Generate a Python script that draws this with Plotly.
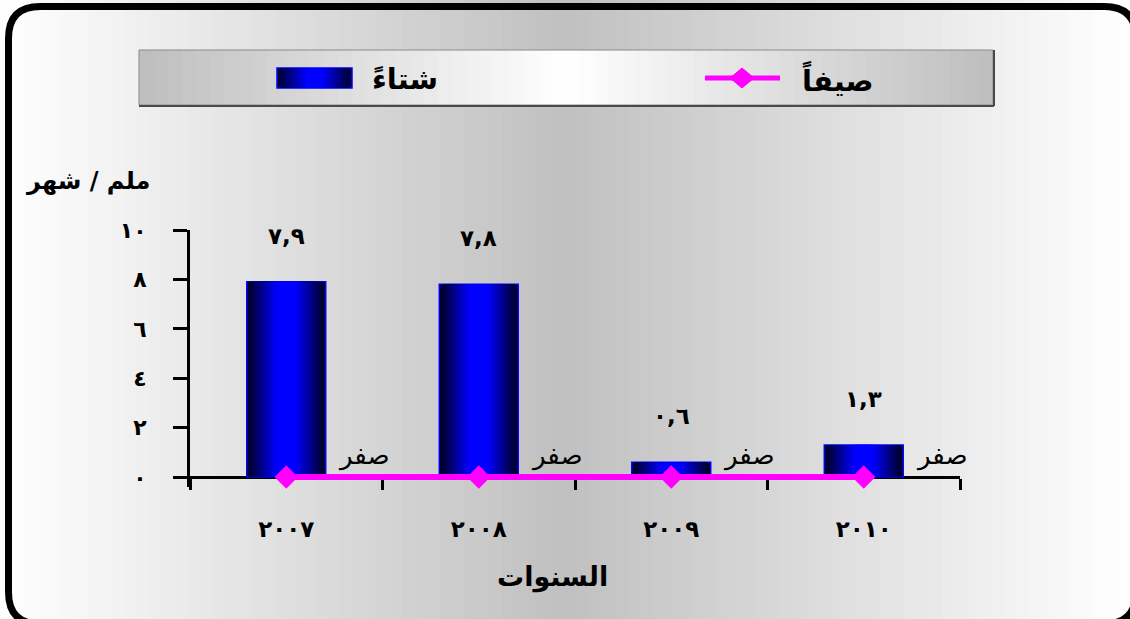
import plotly.graph_objects as go

# ---------------- data ----------------
years = ["٢٠٠٧", "٢٠٠٨", "٢٠٠٩", "٢٠١٠"]
winter = [7.9, 7.8, 0.6, 1.3]
summer = [0, 0, 0, 0]
winter_labels = ["٧,٩", "٧,٨", "٠,٦", "١,٣"]
summer_labels = ["صفر", "صفر", "صفر", "صفر"]
y_tickvals = [0, 2, 4, 6, 8, 10]
y_ticktext = ["٠", "٢", "٤", "٦", "٨", "١٠"]
name_winter = "شتاءً"
name_summer = "صيفاً"
x_title = "السنوات"
y_title = "ملم / شهر"

# ---------------- geometry (page pixel coordinates; body margin removed) ----------------
W, H = 1130, 619
AX_L, AX_R = 190, 960                 # plot area left/right
Y_TOP, Y_ZERO, Y_BOT = 230, 477, 487  # y=10, y=0, bottom of plot area
ML = AX_L
MR = W - AX_R
MT = Y_TOP
MB = H - Y_BOT
PW, PH = AX_R - AX_L, Y_BOT - Y_TOP
Y_LO = -10 * (Y_BOT - Y_ZERO) / (Y_ZERO - Y_TOP)
FONT = "DejaVu Sans"


def px(x):
    return (x - AX_L) / PW


def py(y):
    return (Y_BOT - y) / PH


shapes = []

# background horizontal gradient (white - gray - white)
N = 90
for i in range(N):
    x0 = i * W / N
    x1 = (i + 1) * W / N + 1
    xc = (x0 + x1) / 2
    d = abs(xc - 565) / 565
    g = int(round(255 - 63 * max(0.0, 1 - d)))
    shapes.append(dict(type="rect", xref="paper", yref="paper", layer="below",
                       x0=px(x0), x1=px(x1), y0=py(H + 2), y1=py(0),
                       fillcolor=f"rgb({g},{g},{g})", line=dict(width=0)))

# legend box gradient (gray - white - gray)
LX0, LX1, LY0, LY1 = 139, 993, 50, 105
NL = 60
for i in range(NL):
    x0 = LX0 + i * (LX1 - LX0) / NL
    x1 = LX0 + (i + 1) * (LX1 - LX0) / NL + 0.8
    xc = (x0 + x1) / 2
    d = abs(xc - 566) / ((LX1 - LX0) / 2)
    g = int(round(255 - 65 * min(1.0, d)))
    shapes.append(dict(type="rect", xref="paper", yref="paper", layer="below",
                       x0=px(x0), x1=px(min(x1, LX1)), y0=py(LY1), y1=py(LY0),
                       fillcolor=f"rgb({g},{g},{g})", line=dict(width=0)))
shapes.append(dict(type="rect", xref="paper", yref="paper", layer="below",
                   x0=px(LX0), x1=px(LX1), y0=py(LY1), y1=py(LY0),
                   fillcolor="rgba(0,0,0,0)", line=dict(color="#8a8a8a", width=1)))
shapes.append(dict(type="line", xref="paper", yref="paper", layer="below",
                   x0=px(LX0), x1=px(LX1 + 1), y0=py(LY1 + 1), y1=py(LY1 + 1),
                   line=dict(color="#4a4a4a", width=2)))
shapes.append(dict(type="line", xref="paper", yref="paper", layer="below",
                   x0=px(LX1 + 1), x1=px(LX1 + 1), y0=py(LY0), y1=py(LY1 + 1),
                   line=dict(color="#4a4a4a", width=2)))

# legend swatch for winter (blue gradient)
SX0, SX1, SY0, SY1 = 277, 352, 68, 88
NS = 12
for k in range(NS):
    f = (k + 0.5) / NS
    b = int(round(40 + 215 * min(1.0, f * 1.25)))
    inset = k * (SX1 - SX0) / 2 / NS
    shapes.append(dict(type="rect", xref="paper", yref="paper",
                       x0=px(SX0 + inset), x1=px(SX1 - inset), y0=py(SY1), y1=py(SY0),
                       fillcolor=f"rgb(0,0,{b})",
                       line=dict(color="#0000ff" if k == 0 else f"rgb(0,0,{b})",
                                 width=1.5 if k == 0 else 0)))

# legend sample for summer (magenta line + diamond)
shapes.append(dict(type="line", xref="paper", yref="paper",
                   x0=px(705), x1=px(780), y0=py(78), y1=py(78),
                   line=dict(color="#ff00ff", width=5)))
cx, cy, rx, ry = 742, 78, 12, 10
shapes.append(dict(type="path", xref="paper", yref="paper",
                   path=(f"M{px(cx - rx)},{py(cy)} L{px(cx)},{py(cy - ry)} "
                         f"L{px(cx + rx)},{py(cy)} L{px(cx)},{py(cy + ry)} Z"),
                   fillcolor="#ff00ff", line=dict(color="#ff00ff", width=1)))

# rounded outer frame (partly outside the window on the right / bottom)
FX0, FX1, FY0, FY1, R = 8.5, 1136, 6.5, 624, 32
frame_path = (f"M{px(FX0 + R)},{py(FY0)} L{px(FX1 - R)},{py(FY0)} "
              f"Q{px(FX1)},{py(FY0)} {px(FX1)},{py(FY0 + R)} "
              f"L{px(FX1)},{py(FY1 - R)} Q{px(FX1)},{py(FY1)} {px(FX1 - R)},{py(FY1)} "
              f"L{px(FX0 + R)},{py(FY1)} Q{px(FX0)},{py(FY1)} {px(FX0)},{py(FY1 - R)} "
              f"L{px(FX0)},{py(FY0 + R)} Q{px(FX0)},{py(FY0)} {px(FX0 + R)},{py(FY0)} Z")
shapes.append(dict(type="path", xref="paper", yref="paper", path=frame_path,
                   line=dict(color="black", width=7), fillcolor="rgba(0,0,0,0)"))

# ---------------- traces ----------------
fig = go.Figure()
BAR_W = 0.41
NB = 14
for k in range(NB):
    f = (k + 0.5) / NB
    b = int(round(25 + 230 * min(1.0, f * 1.3)))
    fig.add_trace(go.Bar(
        x=years, y=winter, width=BAR_W * (1 - k / NB),
        marker=dict(color=f"rgb(0,0,{b})",
                    line=dict(color="#0000ff" if k == 0 else f"rgb(0,0,{b})",
                              width=1.5 if k == 0 else 0)),
        name=name_winter, showlegend=False, hoverinfo="skip"))

fig.add_trace(go.Scatter(
    x=years, y=summer, mode="lines+markers", name=name_summer,
    line=dict(color="#ff00ff", width=6),
    marker=dict(symbol="diamond", size=18, color="#ff00ff"),
    cliponaxis=False, showlegend=False))

# ---------------- annotations ----------------
annotations = []
for yr, v, lab in zip(years, winter, winter_labels):
    annotations.append(dict(x=yr, y=v, text=lab, showarrow=False, yshift=46,
                            xanchor="center", yanchor="middle",
                            font=dict(family=FONT, size=23, color="black", weight="bold")))
for yr, v, lab in zip(years, summer, summer_labels):
    annotations.append(dict(x=yr, y=v, text=lab, showarrow=False, yshift=22, xshift=78,
                            xanchor="center", yanchor="middle",
                            font=dict(family=FONT, size=26, color="black")))


def label(x, y, text, size):
    return dict(xref="paper", yref="paper", x=px(x), y=py(y), text=text,
                showarrow=False, xanchor="center", yanchor="middle",
                font=dict(family=FONT, size=size, color="black", weight="bold"))


annotations.append(label(838, 79, name_summer, 29))
annotations.append(label(405, 79, name_winter, 29))
annotations.append(label(88, 181, y_title, 24))
annotations.append(label(552, 577, x_title, 27))

fig.update_layout(
    width=W, height=H,
    margin=dict(l=ML, r=MR, t=MT, b=MB, pad=0),
    paper_bgcolor="white", plot_bgcolor="rgba(0,0,0,0)",
    barmode="overlay",
    showlegend=False,
    shapes=shapes, annotations=annotations,
    xaxis=dict(type="category", categoryorder="array", categoryarray=years,
               range=[-0.5, len(years) - 0.5],
               anchor="free", position=py(Y_ZERO),
               showline=True, linecolor="black", linewidth=3,
               ticks="outside", tickson="boundaries", ticklen=11, tickwidth=3,
               tickcolor="black", showgrid=False, zeroline=False,
               tickfont=dict(family=FONT, size=23, color="black", weight="bold"),
               ticklabelstandoff=30, layer="below traces"),
    xaxis2=dict(overlaying="x", anchor="free", position=py(Y_ZERO),
                range=[-0.5, len(years) - 0.5],
                tickvals=[i - 0.5 for i in range(len(years) + 1)],
                ticks="inside", ticklen=10, tickwidth=3, tickcolor="black",
                showticklabels=False, showline=False, showgrid=False, zeroline=False,
                side="bottom"),
    yaxis=dict(range=[Y_LO, 10], tickvals=y_tickvals, ticktext=y_ticktext,
               showline=True, linecolor="black", linewidth=3,
               ticks="outside", ticklen=14, tickwidth=3, tickcolor="black",
               showgrid=False, zeroline=False,
               tickfont=dict(family=FONT, size=22, color="black", weight="bold"),
               ticklabelstandoff=22),
    yaxis2=dict(overlaying="y", anchor="x", side="left", range=[Y_LO, 10],
                tickvals=y_tickvals, ticks="inside", ticklen=15, tickwidth=3,
                tickcolor="black", showticklabels=False, showline=False,
                showgrid=False, zeroline=False),
)

fig.write_html("out.html",
               config={"displayModeBar": False},
               post_script="document.body.style.margin='0';"
                           "document.body.style.overflow='hidden';")
